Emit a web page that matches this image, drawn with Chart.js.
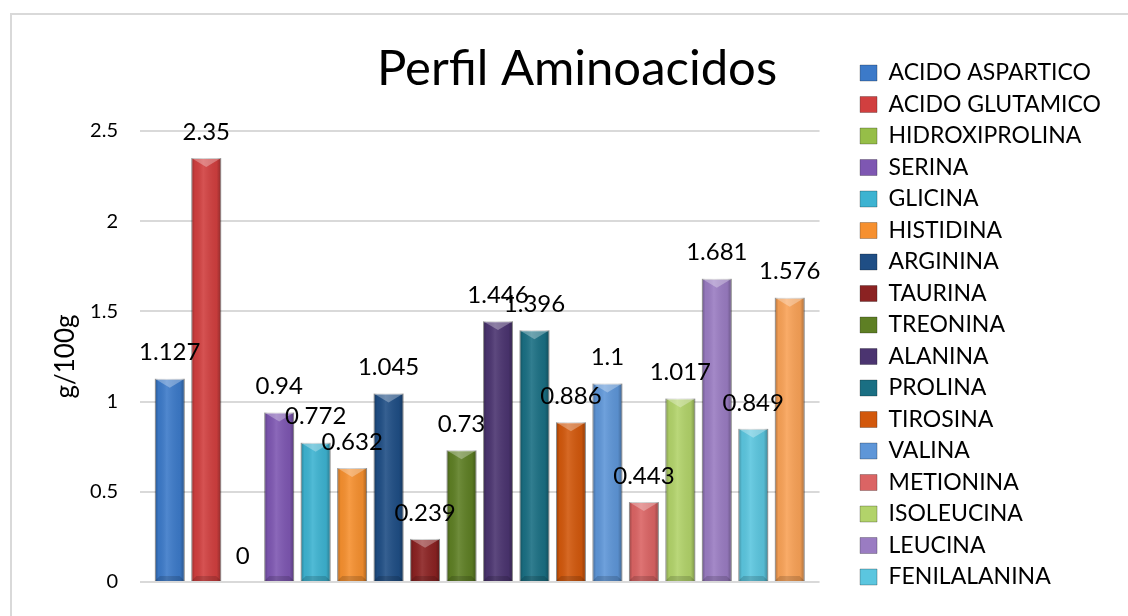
<!DOCTYPE html>
<html>
<head>
<meta charset="utf-8">
<title>Perfil Aminoacidos</title>
<script src="https://cdn.jsdelivr.net/npm/chart.js@4.4.1/dist/chart.umd.min.js"></script>
<style>
  html, body { margin: 0; padding: 0; background: #fff; overflow: hidden; }
  #frame {
    position: absolute; left: 10px; top: 13px;
    width: 1200px; height: 700px;
    border: 2px solid #d9d9d9;
  }
  #aminoChart { position: absolute; left: 0; top: 0; }
</style>
</head>
<body>
<div id="frame"></div>
<canvas id="aminoChart" width="1128" height="616"></canvas>
<script>
// Chart data
const chartTitle = 'Perfil Aminoacidos';
const yAxisTitle = 'g/100g';
const categories = ['1'];
const seriesNames = [
  'ACIDO ASPARTICO', 'ACIDO GLUTAMICO', 'HIDROXIPROLINA', 'SERINA', 'GLICINA',
  'HISTIDINA', 'ARGININA', 'TAURINA', 'TREONINA', 'ALANINA', 'PROLINA',
  'TIROSINA', 'VALINA', 'METIONINA', 'ISOLEUCINA', 'LEUCINA', 'FENILALANINA',
  'LISINA'
];
const seriesValues = [
  1.127, 2.35, 0, 0.94, 0.772, 0.632, 1.045, 0.239, 0.73, 1.446, 1.396,
  0.886, 1.1, 0.443, 1.017, 1.681, 0.849, 1.576
];
const seriesColors = [
  '#3c7ac9', '#d13f3f', '#96be48', '#7e57b2', '#3db3d1', '#f6902f',
  '#1f4e85', '#8b2222', '#5e7f24', '#4b3470', '#1a6f83', '#d2580c',
  '#5e96d8', '#db6464', '#b2d36a', '#9a7cc2', '#5bc6df', '#f9a257'
];
// series that did not fit in the original legend
const legendHidden = ['LISINA'];
const yTicks = [0, 0.5, 1, 1.5, 2, 2.5];

const FONT = 'Lato';

// Excel-like bevel over each bar
const bevelPlugin = {
  id: 'bevel',
  afterDatasetsDraw(chart) {
    const ctx = chart.ctx;
    chart.data.datasets.forEach((ds, i) => {
      const meta = chart.getDatasetMeta(i);
      meta.data.forEach(bar => {
        const { x, y, base, width } = bar.getProps(['x', 'y', 'base', 'width'], true);
        const h = base - y;
        if (h <= 0) return;
        const left = x - width / 2;
        const right = x + width / 2;
        ctx.save();
        const g = ctx.createLinearGradient(left, 0, right, 0);
        g.addColorStop(0, 'rgba(0,0,0,0.30)');
        g.addColorStop(0.12, 'rgba(0,0,0,0.04)');
        g.addColorStop(0.4, 'rgba(255,255,255,0.10)');
        g.addColorStop(0.85, 'rgba(0,0,0,0.06)');
        g.addColorStop(1, 'rgba(0,0,0,0.32)');
        ctx.fillStyle = g;
        ctx.fillRect(left, y, width, h);

        const d = Math.min(width * 0.3, h / 2);
        ctx.beginPath();
        ctx.moveTo(left, y);
        ctx.lineTo(right, y);
        ctx.lineTo(x, y + d);
        ctx.closePath();
        ctx.fillStyle = 'rgba(255,255,255,0.30)';
        ctx.fill();

        const b = Math.min(5, h / 3);
        ctx.beginPath();
        ctx.moveTo(left, base);
        ctx.lineTo(right, base);
        ctx.lineTo(right - b, base - b);
        ctx.lineTo(left + b, base - b);
        ctx.closePath();
        ctx.fillStyle = 'rgba(0,0,0,0.15)';
        ctx.fill();
        ctx.restore();
      });
    });
  }
};

// Value labels above bars
const valueLabelPlugin = {
  id: 'valueLabels',
  afterDatasetsDraw(chart) {
    const ctx = chart.ctx;
    ctx.save();
    ctx.font = '24px ' + FONT;
    ctx.fillStyle = '#000';
    ctx.textAlign = 'center';
    ctx.textBaseline = 'middle';
    chart.data.datasets.forEach((ds, i) => {
      const meta = chart.getDatasetMeta(i);
      meta.data.forEach((bar, j) => {
        ctx.fillText(String(ds.data[j]), bar.x, bar.y - 26);
      });
    });
    ctx.restore();
  }
};

// Title centred over the whole chart frame
const titlePlugin = {
  id: 'frameTitle',
  afterDraw(chart) {
    const ctx = chart.ctx;
    ctx.save();
    ctx.font = '49px ' + FONT;
    ctx.fillStyle = '#000';
    ctx.textAlign = 'center';
    ctx.textBaseline = 'alphabetic';
    ctx.fillText(chartTitle, 577, 85);
    ctx.restore();
  }
};

const datasets = seriesNames.map((name, i) => ({
  label: name,
  data: [seriesValues[i]],
  backgroundColor: seriesColors[i],
  borderColor: 'rgba(0,0,0,0.25)',
  borderWidth: 1,
  categoryPercentage: 0.966,
  barPercentage: 0.82
}));

const ctx = document.getElementById('aminoChart').getContext('2d');
const aminoChart = new Chart(ctx, {
  type: 'bar',
  data: { labels: categories, datasets: datasets },
  plugins: [bevelPlugin, valueLabelPlugin, titlePlugin],
  options: {
    responsive: false,
    animation: false,
    devicePixelRatio: 1,
    layout: { padding: { top: 53, right: 17, bottom: 0, left: 0 } },
    plugins: {
      title: { display: false },
      tooltip: { enabled: false },
      legend: {
        position: 'right',
        align: 'start',
        labels: {
          color: '#000',
          boxWidth: 17,
          boxHeight: 16,
          padding: 8.5,
          font: { family: FONT, size: 23 },
          filter: item => !legendHidden.includes(item.text)
        }
      }
    },
    scales: {
      x: {
        position: 'bottom',
        grid: { display: false },
        border: { display: false },
        ticks: { display: false },
        afterFit: scale => { scale.height = 21; }
      },
      xTop: {
        type: 'category',
        position: 'top',
        grid: { display: false },
        border: { display: false },
        ticks: { display: false },
        afterFit: scale => { scale.height = 78; }
      },
      y: {
        min: 0,
        max: 2.5,
        afterBuildTicks: scale => { scale.ticks = yTicks.map(v => ({ value: v })); },
        afterFit: scale => { scale.width = 140; },
        grid: { color: '#d9d9d9', lineWidth: 2, drawTicks: false },
        border: { display: false },
        ticks: {
          color: '#000',
          padding: 22,
          font: { family: FONT, size: 20 },
          callback: value => String(value)
        },
        title: {
          display: true,
          text: yAxisTitle,
          color: '#000',
          font: { family: FONT, size: 26 },
          padding: { top: 50, bottom: 0 }
        }
      },
      yGap: {
        display: false,
        position: 'right',
        afterFit: scale => { scale.width = 32; }
      }
    }
  }
});
</script>
</body>
</html>
